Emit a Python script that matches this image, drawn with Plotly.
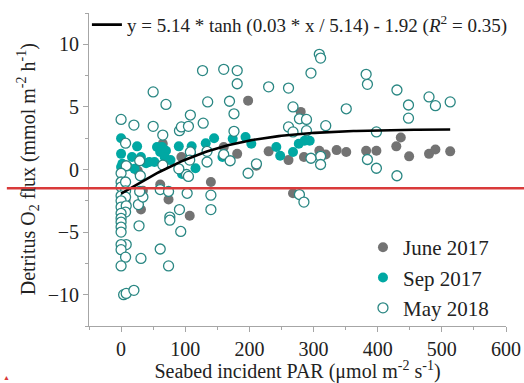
import numpy as np
import plotly.graph_objects as go

# ---------------- data ----------------
june_x = [7, 31, 34, 26, 65, 61, 74, 94, 107, 140, 160, 181, 198, 211, 230, 261, 268, 280, 285,
          309, 319, 336, 351, 382, 398, 429, 436, 449, 480, 490, 513]
june_y = [-2.5, -3.2, -1.7, -0.1, 2.05, -1.2, -2.4, 1.0, -3.7, -1.0, 1.8, 1.25, 5.5, 0.3, 1.45, 0.75, -1.9, 4.6, 1.0,
          1.5, 1.2, 1.55, 1.4, 1.5, 1.5, 1.85, 2.55, 1.05, 1.25, 1.6, 1.45]

sep_x = [0, 0, 2, 0, 10, 17, 25, 31, 39, 21, 44, 52, 56, 64, 61, 70, 68, 77, 90, 95, 110, 109, 116,
         132, 145, 158, 174, 194, 203, 242, 248, 268, 277, 286, 294]
sep_y = [2.5, 1.25, 0.45, 0.2, 0.25, 1.0, 1.85, 1.0, 0.5, 0.05, 0.6, 0.6, 1.8, 1.8, 1.4, 1.5, 1.0, 0.75, 1.85, -0.35, 1.85, 1.25, 0.1,
         2.1, 2.5, 1.0, 2.45, 2.6, 2.05, 1.8, 1.1, 1.4, 2.05, 2.3, 2.3]

may_x = [0, 7, 20, 50, 50, 65, 70, 91, 94, 105, 108, 127, 128, 135, 160, 181, 181, 169, 176, 176,
         230, 261, 268, 261, 278, 289, 268, 289, 309, 311, 296, 319, 351, 382, 384, 398, 430, 448, 448, 480,
         490, 513, 384, 398, 430, 311, 311, 296, 211, 198, 160, 170, 134, 134, 108, 107, 102, 105, 90, 65,
         29, 30, 8, 0, 0, 0, 7, 7, 0, 7, 0, 0, 8, 7, 0, 0, 0, 0, 0, 8, 0, 0, 7, 0, 4, 8, 20,
         31, 28, 27, 34, 29, 61, 61, 74, 74, 76, 76, 91, 93, 103, 140, 140, 278, 285]
may_y = [4.0, 2.1, 3.55, 6.2, 3.45, 2.75, 5.2, 3.1, 3.4, 3.45, 4.35, 7.9, 3.7, 5.4, 8.0, 7.9, 6.85, 5.45, 4.45, 3.05,
         6.6, 6.5, 5.0, 3.4, 4.05, 4.0, 3.0, 3.1, 9.2, 8.9, 7.7, 3.5, 4.85, 7.6, 6.8, 3.0, 6.35, 5.15, 4.1, 5.8,
         5.1, 5.4, 0.8, 0.1, -0.5, 1.05, 0.4, 0.9, 0.45, -0.3, 1.2, 0.7, 0.6, 1.45, 1.4, 0.75, -0.4, -0.55, 0.05, 0.35,
         0.7, -0.5, 0.3, -0.3, -1.0, -1.4, -1.0, -1.7, -2.1, -2.2, -2.5, -3.0, -2.9, -3.4, -3.5, -3.9, -4.2, -4.6, -5.0, -6.0, -6.0, -6.4, -7.0, -7.7, -10.0, -9.9, -9.65,
         -7.1, -4.5, -2.8, -2.2, -1.75, -1.6, -6.35, -7.7, -1.75, -3.8, -4.05, -3.2, -4.95, -1.9, -2.05, -3.2, -2.0, -2.6]
may_x = may_x[:len(may_y)]

# fitted model shown in the legend: y = a*tanh(b*x/a) + c
fit_a, fit_b, fit_c = 5.14, 0.03, -1.92
fit_x = np.linspace(0, 513, 120)
fit_y = fit_a * np.tanh(fit_b * fit_x / fit_a) + fit_c

x_ticks = [0, 100, 200, 300, 400, 500, 600]
y_ticks = [-10, -5, 0, 5, 10]
ref_y = -1.5  # red reference line

FONT = "Liberation Serif"
GRAY = "#737373"
TEAL = "#00a8a3"
TEAL_EDGE = "#2a8783"

fig = go.Figure()
fig.add_trace(go.Scatter(x=june_x, y=june_y, mode="markers", name="June 2017",
                         marker=dict(size=10, color=GRAY, line=dict(width=0)), legend="legend"))
fig.add_trace(go.Scatter(x=sep_x, y=sep_y, mode="markers", name="Sep 2017",
                         marker=dict(size=10, color=TEAL, line=dict(width=0)), legend="legend"))
fig.add_trace(go.Scatter(x=may_x, y=may_y, mode="markers", name="May 2018",
                         marker=dict(size=10, color="white", line=dict(width=1.3, color=TEAL_EDGE)),
                         legend="legend"))
fig.add_trace(go.Scatter(x=fit_x, y=fit_y, mode="lines",
                         name="y = 5.14 * tanh (0.03 * x / 5.14) - 1.92 (<i>R</i><sup>2</sup> = 0.35)",
                         line=dict(color="black", width=2.6), legend="legend2"))

y_lo, y_hi = -12.5, 12.5
fig.add_shape(type="line", xref="paper", yref="paper",
              x0=-0.197, x1=1.05,
              y0=(ref_y - y_lo) / (y_hi - y_lo), y1=(ref_y - y_lo) / (y_hi - y_lo),
              line=dict(color="#d93a3a", width=2.6), layer="above")
fig.add_annotation(xref="paper", yref="paper", x=-0.197, y=-0.165, text="▲", showarrow=False,
                   font=dict(size=7, color="#d93a3a"), xanchor="center", yanchor="middle")

# y-axis title (placed as a rotated annotation to match the reference position)
fig.add_annotation(xref="paper", yref="paper", x=-0.147, y=0.5, textangle=-90, showarrow=False,
                   text="Detritus O<sub>2</sub> flux (mmol m<sup>-2</sup> h<sup>-1</sup>)",
                   font=dict(family=FONT, size=20, color="#222222"), xanchor="center", yanchor="middle")

axis_common = dict(showline=True, linecolor="#a6a6a6", linewidth=1, showgrid=False, zeroline=False,
                   ticks="outside", ticklen=5, tickcolor="#a6a6a6", tickwidth=1, automargin=False,
                   tickfont=dict(family=FONT, size=20, color="#222222"), mirror=False)

fig.update_xaxes(range=[-50, 600], tickvals=x_ticks,
                 minor=dict(dtick=50, tick0=-50, ticks="outside", ticklen=3, tickcolor="#a6a6a6"),
                 title=dict(text="Seabed incident PAR (μmol m<sup>-2</sup> s<sup>-1</sup>)",
                            font=dict(family=FONT, size=20, color="#222222"), standoff=0),
                 **axis_common)
fig.update_yaxes(range=[y_lo, y_hi], tickvals=y_ticks,
                 minor=dict(dtick=2.5, tick0=0, ticks="outside", ticklen=3, tickcolor="#a6a6a6"),
                 **axis_common)

fig.update_layout(
    width=524, height=383,
    margin=dict(l=89, r=18, t=13, b=57, autoexpand=False),
    plot_bgcolor="white", paper_bgcolor="white",
    font=dict(family=FONT, color="#222222"),
    showlegend=True,
    legend=dict(x=0.657, y=0.316, xanchor="left", yanchor="top", bgcolor="rgba(0,0,0,0)",
                font=dict(family=FONT, size=21, color="#222222"), itemwidth=30, tracegroupgap=0),
    legend2=dict(x=-0.005, y=1.023, xanchor="left", yanchor="top", bgcolor="rgba(0,0,0,0)",
                 font=dict(family=FONT, size=19, color="#222222"), itemwidth=30),
)

fig.write_html("out.html", config={"displayModeBar": False},
               post_script="document.body.style.margin='0';")
